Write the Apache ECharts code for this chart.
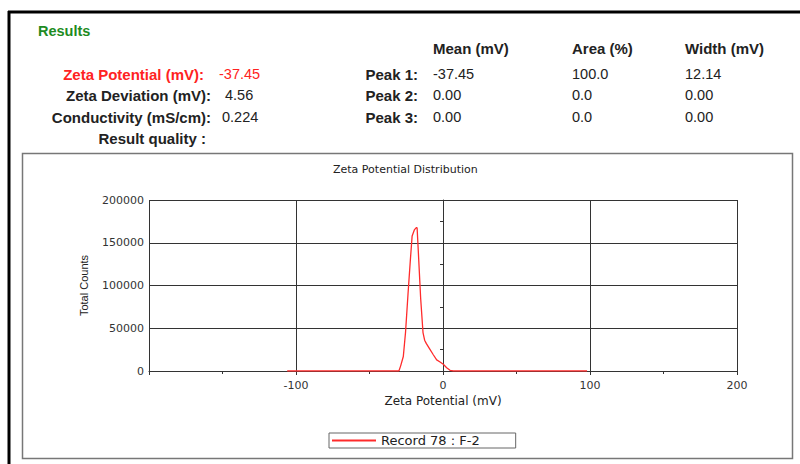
<!DOCTYPE html>
<html>
<head>
<meta charset="utf-8">
<script src="https://cdn.jsdelivr.net/npm/echarts@6/dist/echarts.min.js"></script>
<style>
  html, body { margin: 0; padding: 0; background: #fff; }
  #chart { width: 800px; height: 464px; }
</style>
</head>
<body>
<div id="chart"></div>
<script>
// distribution (mV, counts)
const zetaMv = [-106, -30, -28.8, -27.0, -25.5, -23.8, -22.2, -21.0, -19.5, -18.0, -17.6, -16.8, -15.2, -13.6, -12.5, -11.3, -9.3, -6.6, -4.3, -2.0, 0.2, 2.5, 4.8, 7.0, 98];
const counts = [0, 0, 6000, 17000, 45000, 90000, 130000, 158000, 165000, 168000, 167000, 140000, 85000, 45000, 36000, 32000, 26500, 19000, 13000, 10500, 7800, 3900, 800, 0, 0];

// results block
const resultLabels = ['Zeta Potential (mV):', 'Zeta Deviation (mV):', 'Conductivity (mS/cm):', 'Result quality :'];
const resultValues = ['-37.45', '4.56', '0.224', ''];
const peakHeaders = ['Mean (mV)', 'Area (%)', 'Width (mV)'];
const peakNames = ['Peak 1:', 'Peak 2:', 'Peak 3:'];
const peakMeans = ['-37.45', '0.00', '0.00'];
const peakAreas = ['100.0', '0.0', '0.0'];
const peakWidths = ['12.14', '0.00', '0.00'];

const FONT = '"DejaVu Sans", sans-serif';
const HEAD_FONT = '"Liberation Sans", Arial, sans-serif';
const rowY = [74, 95, 117, 138];
const labelRight = [204, 211, 211, 206];
const valueLeft = [219, 225, 222, 222];
const colLeft = [433, 572, 685];

function txt(text, x, y, opts) {
  opts = opts || {};
  return {
    type: 'text',
    silent: true,
    style: {
      text: text,
      x: x,
      y: y,
      font: (opts.bold ? 'bold ' : '') + (opts.size || (opts.bold ? 15 : 14.5)) + 'px ' + HEAD_FONT,
      fill: opts.color || '#222',
      align: opts.align || 'left',
      verticalAlign: 'middle',
      textAlign: opts.align || 'left',
      textVerticalAlign: 'middle'
    }
  };
}

const graphics = [
  { type: 'line', silent: true, shape: { x1: 8, y1: 12, x2: 800, y2: 12 }, style: { stroke: '#000', lineWidth: 3 } },
  { type: 'line', silent: true, shape: { x1: 9, y1: 11, x2: 9, y2: 464 }, style: { stroke: '#000', lineWidth: 3 } },
  { type: 'rect', silent: true, shape: { x: 22.5, y: 153.5, width: 770, height: 305 }, style: { fill: 'none', stroke: '#777', lineWidth: 1.5 } },
  txt('Results', 38, 31, { bold: true, size: 14.5, color: '#1e8b22' })
];

resultLabels.forEach(function (l, i) {
  graphics.push(txt(l, labelRight[i], rowY[i], { bold: true, align: 'right', color: i === 0 ? '#ff2222' : '#222' }));
  if (resultValues[i]) {
    graphics.push(txt(resultValues[i], valueLeft[i], rowY[i], { color: i === 0 ? '#ff2222' : '#222' }));
  }
});

peakHeaders.forEach(function (h, j) {
  graphics.push(txt(h, colLeft[j], 48, { bold: true }));
});

peakNames.forEach(function (p, i) {
  graphics.push(txt(p, 418, rowY[i], { bold: true, align: 'right' }));
  graphics.push(txt(peakMeans[i], colLeft[0], rowY[i]));
  graphics.push(txt(peakAreas[i], colLeft[1], rowY[i]));
  graphics.push(txt(peakWidths[i], colLeft[2], rowY[i]));
});

const chart = echarts.init(document.getElementById('chart'), null, { renderer: 'svg' });

chart.setOption({
  animation: false,
  backgroundColor: '#fff',
  title: {
    text: 'Zeta Potential Distribution',
    left: 328,
    top: 159,
    textStyle: { fontFamily: FONT, fontSize: 11, fontWeight: 'normal', color: '#222' }
  },
  grid: { left: 149, right: 63, top: 200, bottom: 93 },
  legend: {
    left: 329,
    top: 433,
    icon: 'rect',
    itemWidth: 44,
    itemHeight: 2,
    padding: [1, 36, 1, 3],
    borderColor: '#666',
    borderWidth: 1,
    textStyle: { fontFamily: FONT, fontSize: 13, color: '#222' },
    data: ['Record 78 : F-2']
  },
  xAxis: {
    type: 'value',
    min: -200,
    max: 200,
    interval: 100,
    name: 'Zeta Potential (mV)',
    nameLocation: 'middle',
    nameGap: 24,
    nameTextStyle: { fontFamily: FONT, fontSize: 12, color: '#222' },
    axisLine: { lineStyle: { color: '#333', width: 1 } },
    axisTick: { length: 4, lineStyle: { color: '#333' } },
    minorTick: { show: true, splitNumber: 2, length: 3, lineStyle: { color: '#333' } },
    axisLabel: { showMinLabel: false, margin: 9, fontFamily: FONT, fontSize: 11, color: '#333' },
    splitLine: { show: true, lineStyle: { color: '#333', width: 1 } }
  },
  yAxis: {
    type: 'value',
    min: 0,
    max: 200000,
    interval: 50000,
    name: 'Total Counts',
    nameLocation: 'middle',
    nameGap: 60,
    nameTextStyle: { fontFamily: '"Liberation Sans", sans-serif', fontSize: 11, color: '#222' },
    axisLine: { show: true, lineStyle: { color: '#333', width: 1 } },
    axisTick: { show: true, length: 4, lineStyle: { color: '#333' } },
    minorTick: { show: true, splitNumber: 2, length: 3, lineStyle: { color: '#333' } },
    axisLabel: {
      margin: 5,
      fontFamily: FONT,
      fontSize: 11,
      color: '#333',
      formatter: function (v) { return String(v); }
    },
    splitLine: { show: true, lineStyle: { color: '#333', width: 1 } }
  },
  series: [{
    name: 'Record 78 : F-2',
    type: 'line',
    showSymbol: false,
    data: zetaMv.map(function (v, i) { return [v, counts[i]]; }),
    lineStyle: { color: '#ff2b2b', width: 1.3 },
    itemStyle: { color: '#ff2b2b' }
  }],
  graphic: graphics
});
</script>
</body>
</html>
